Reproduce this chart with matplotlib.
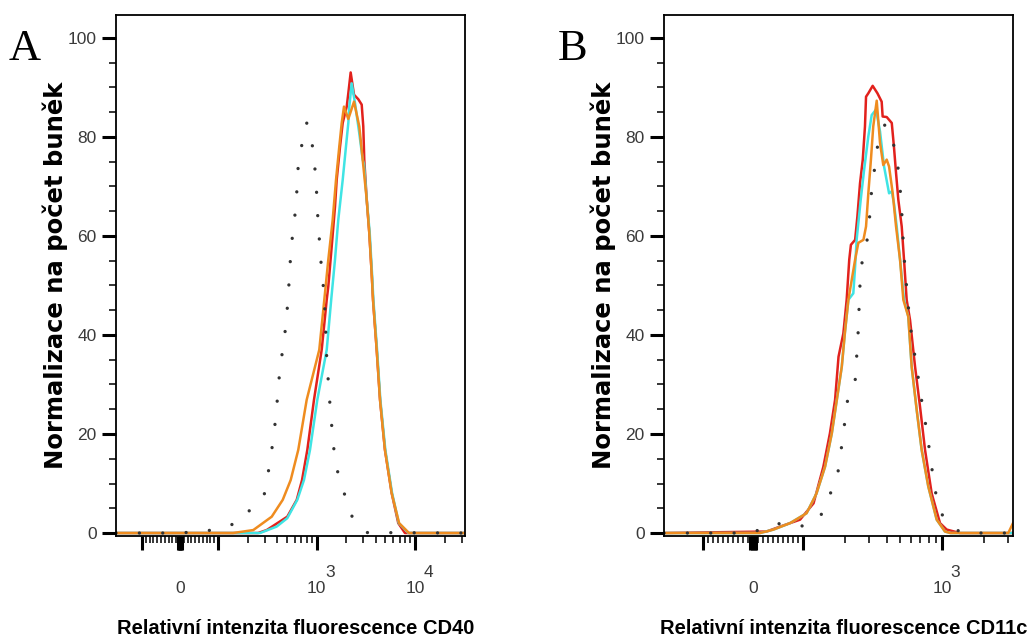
import matplotlib
matplotlib.use('Agg')
import matplotlib.pyplot as plt
import matplotlib.transforms as mtransforms

# ---- data ----
# panel A (CD40)
a_ctrl_x = [-184, 0, 87, 174, 225, 293, 324, 353, 379, 400, 419, 450, 486, 510, 529, 547, 577, 619, 638, 659,
            717, 795, 885, 949, 995, 1019, 1060, 1102, 1164, 1211, 1240, 1268, 1316, 1370, 1436, 1515, 1679,
            1991, 2364, 3184, 32200]
a_ctrl_y = [0, 0, 0.6, 2.3, 5.5, 7.5, 12.3, 17.1, 22.0, 26.9, 31.7, 36.6, 41.5, 46.4, 51.3, 56.3, 61.1, 65.9,
            70.8, 75.8, 78.7, 82.8, 79.9, 75.2, 70.2, 65.3, 60.3, 55.4, 50.6, 45.7, 40.7, 35.6, 30.8, 25.9,
            21.0, 16.1, 11.3, 7.0, 2.6, 0.1, 0]
a_red_x = [-184, 100, 255, 312, 505, 630, 713, 807, 943, 1129, 1270, 1318, 1426, 1541, 1603, 1733, 1845, 2027,
           2104, 2223, 2404, 2655, 2877, 2985, 3055, 3236, 3436, 3633, 3750, 4086, 4416, 4955, 5795, 6763,
           7910, 32200]
a_red_y = [0, 0, 0, 0.6, 3.3, 6.7, 10.7, 16.8, 26.9, 37.0, 47.1, 49.8, 57.8, 65.9, 71.3, 78.0, 82.8, 86.1,
           88.8, 93.0, 88.5, 87.6, 86.5, 82.1, 75.4, 67.3, 60.6, 52.5, 47.1, 37.0, 26.9, 16.8, 8.1, 2.0, 0, 0]
a_cyan_x = [-184, 100, 267, 394, 505, 638, 746, 859, 1019, 1270, 1410, 1541, 1663, 1845, 1991, 2104, 2153,
            2276, 2460, 2720, 2944, 3034, 3236, 3470, 3660, 3780, 4120, 4450, 5000, 5850, 6850, 8600, 32200]
a_cyan_y = [0, 0, 0, 1.3, 3.0, 6.7, 10.7, 16.8, 26.9, 37.0, 47.1, 55.2, 63.2, 71.3, 78.0, 82.8, 86.1, 90.8,
            86.8, 80.7, 75.4, 74.5, 67.3, 60.6, 52.5, 47.1, 37.0, 26.9, 16.8, 8.1, 2.0, 0, 0]
a_orange_x = [-184, 100, 142, 228, 351, 454, 547, 653, 795, 1067, 1200, 1318, 1459, 1578, 1703, 1803, 1902,
              2104, 2404, 2720, 2944, 3236, 3436, 3633, 3750, 4086, 4416, 4955, 5795, 6900, 8700, 32200]
a_orange_y = [0, 0, 0, 0.6, 3.3, 6.7, 10.7, 16.8, 26.9, 37.0, 47.1, 55.2, 63.2, 71.3, 78.0, 82.8, 86.1,
              83.6, 87.1, 82.1, 75.4, 67.3, 60.6, 52.5, 47.1, 37.0, 26.9, 16.8, 8.1, 2.0, 0, 0]

# panel B (CD11c)
b_ctrl_x = [-191, -13, 17, 47, 76, 108, 135, 156, 178, 188, 198, 208, 237, 243, 249, 253, 257, 267, 292, 303,
            312, 330, 348, 389, 459, 488, 505, 518, 527, 542, 563, 582, 615, 658, 695, 742, 789, 834, 880,
            951, 1129, 1423, 3245]
b_ctrl_y = [0, 0, 0.7, 2.0, 1.3, 1.5, 3.7, 7.7, 12.1, 16.8, 21.6, 26.5, 30.6, 35.5, 40.4, 45.4, 50.3, 55.2,
            59.7, 64.6, 69.5, 74.3, 79.3, 82.5, 77.7, 72.8, 68.0, 62.9, 58.1, 53.2, 48.2, 43.4, 38.4, 33.6,
            28.7, 24.0, 19.3, 14.3, 9.6, 4.8, 1.3, 0, 0]
b_red_x = [-191, 27, 54, 94, 119, 140, 156, 170, 180, 195, 206, 215, 221, 237, 246, 257, 269, 279, 284, 295,
           317, 343, 368, 374, 400, 435, 451, 467, 485, 513, 533, 557, 589, 640, 695, 755, 843, 968, 1081,
           1346, 3245]
b_red_y = [0, 0.3, 1.3, 2.7, 6.0, 13.4, 20.1, 26.9, 35.6, 40.3, 47.1, 55.2, 58.2, 59.2, 63.9, 70.6, 75.4,
           82.1, 88.1, 88.8, 90.3, 88.8, 87.1, 84.1, 84.0, 82.8, 78.0, 72.7, 67.3, 61.9, 55.2, 47.1, 43.0,
           33.6, 25.5, 16.8, 8.0, 2.0, 0.7, 0, 0]
b_cyan_x = [-191, 14, 41, 74, 106, 125, 144, 161, 175, 190, 200, 212, 230, 237, 243, 260, 275, 295, 312, 335,
            358, 383, 416, 435, 451, 472, 499, 533, 572, 605, 658, 714, 797, 916, 1051, 1150, 3245]
b_cyan_y = [0, 0, 0.7, 2.0, 4.0, 8.0, 13.4, 20.1, 26.9, 33.6, 40.4, 47.1, 48.4, 53.8, 59.2, 67.3, 73.3, 80.1,
            84.4, 85.5, 81.1, 74.0, 68.6, 69.0, 66.6, 61.9, 55.2, 47.1, 43.7, 33.6, 24.8, 16.8, 9.4, 2.7,
            0.3, 0, 0]
b_orange_x = [-191, 14, 41, 74, 106, 125, 144, 161, 175, 190, 200, 212, 237, 250, 272, 284, 295, 308, 320,
              339, 358, 378, 400, 416, 442, 467, 499, 527, 572, 605, 658, 714, 797, 916, 1051, 1150, 3000, 3245]
b_orange_y = [0, 0, 0.7, 2.0, 4.0, 8.0, 13.4, 20.1, 26.9, 33.6, 40.4, 47.1, 55.2, 58.6, 59.2, 61.9, 68.6,
              75.4, 82.1, 87.3, 78.8, 74.3, 75.4, 74.0, 68.6, 61.9, 55.2, 47.1, 43.7, 33.6, 24.8, 16.8, 9.4,
              2.7, 0.3, 0, 0, 2.0]

y_ticks = [0, 20, 40, 60, 80, 100]
ylabel = 'Normalizace na počet buněk'

RED = '#e2211c'
CYAN = '#3fe4e4'
ORANGE = '#ef8c1f'
DOTS = '#333333'
TICKGREY = '#3a3a3a'
SANS = 'Liberation Sans'


def setup_panel(ax, linscale, xlim, majors, minors, labels, xlabel, letter):
    ax.set_xscale('symlog', linthresh=100, linscale=linscale)
    ax.set_xlim(*xlim)
    ax.set_ylim(-0.6, 104.6)

    ax.set_xticks(majors)
    ax.set_xticks(minors, minor=True)
    ax.set_xticklabels([])
    ax.set_yticks(y_ticks)
    ax.set_yticks(range(5, 100, 5), minor=True)
    ax.set_yticklabels([str(v) for v in y_ticks], family=SANS, fontsize=12.5, color=TICKGREY)
    ax.tick_params(which='major', length=10, width=2.2, color='black', pad=4)
    ax.tick_params(which='minor', length=5, width=1.1, color='black')
    for s in ax.spines.values():
        s.set_linewidth(1.3)

    # x tick labels "0", "10^3", "10^4" sitting well below the axis
    trans = mtransforms.blended_transform_factory(ax.transData, ax.transAxes)
    for xv, base, exp in labels:
        ax.text(xv, -0.1, base, transform=trans, ha='center', va='center',
                family=SANS, fontsize=12.5, color=TICKGREY)
        if exp:
            ax.annotate(exp, xy=(xv, -0.1), xycoords=trans, xytext=(9.5, 11),
                        textcoords='offset points', ha='center', va='center',
                        family=SANS, fontsize=12.5, color=TICKGREY)

    ax.text(0.515, -0.177, xlabel, transform=ax.transAxes, ha='center', va='center',
            family=SANS, fontsize=14.5, fontweight='bold')
    ax.set_ylabel(ylabel, fontsize=17.5, fontweight='bold', family='DejaVu Sans')
    ax.yaxis.set_label_coords(-0.137, 0.5)
    ax.text(-0.262, 0.935, letter, transform=ax.transAxes, ha='center', va='center',
            family='Liberation Serif', fontsize=32)


def draw(ax, ctrl, red, cyan, orange):
    ax.plot(*red, color=RED, lw=1.8)
    ax.plot(*cyan, color=CYAN, lw=1.8)
    ax.plot(*orange, color=ORANGE, lw=1.8)
    ax.plot(*ctrl, color=DOTS, lw=2.4, linestyle=(0, (0.01, 7)), dash_capstyle='round')


fig = plt.figure(figsize=(10.33, 6.41), dpi=100)
axA = fig.add_axes([116 / 1033, 1 - 536 / 641, 349 / 1033, 521 / 641])
axB = fig.add_axes([664 / 1033, 1 - 536 / 641, 349 / 1033, 521 / 641])

lin_minors = [v for v in range(-90, 100, 10) if v != 0]
a_minors = lin_minors + [k * 10 ** d for d in (2, 3, 4) for k in range(2, 10) if k * 10 ** d < 32200]
b_minors = lin_minors + [k * 10 ** d for d in (2, 3) for k in range(2, 10) if k * 10 ** d < 3245]

draw(axA, (a_ctrl_x, a_ctrl_y), (a_red_x, a_red_y), (a_cyan_x, a_cyan_y), (a_orange_x, a_orange_y))
draw(axB, (b_ctrl_x, b_ctrl_y), (b_red_x, b_red_y), (b_cyan_x, b_cyan_y), (b_orange_x, b_orange_y))

setup_panel(axA, 0.347, (-184, 32200), [-100, -6, -3, 0, 3, 6, 100, 1000, 10000], a_minors,
            [(0, '0', ''), (1000, '10', '3'), (10000, '10', '4')],
            'Relativní intenzita fluorescence CD40', 'A')
setup_panel(axB, 0.324, (-191, 3245), [-100, -6, -3, 0, 3, 6, 100, 1000], b_minors,
            [(0, '0', ''), (1000, '10', '3')],
            'Relativní intenzita fluorescence CD11c', 'B')

fig.savefig('out.png', dpi=100)
